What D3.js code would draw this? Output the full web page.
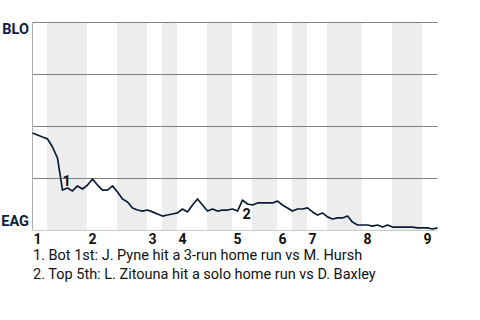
<!DOCTYPE html>
<html>
<head>
<meta charset="utf-8">
<script src="https://cdn.jsdelivr.net/npm/d3@7"></script>
<style>
  body { margin: 0; background: #fff; }
</style>
</head>
<body>
<div id="chart"></div>
<script>
// plate appearances in each half inning (top 1st, bot 1st, top 2nd ...)
var halfInningPAs = [3, 8, 6, 6, 3, 3, 6, 5, 4, 5, 3, 3, 4, 7, 6, 6, 3];
var innings = ['1', '2', '3', '4', '5', '6', '7', '8', '9'];
var teams = ['BLO', 'EAG'];

// BLO win probability (%) after each plate appearance
var winProb = [46.6, 45.7, 44.7, 43.8, 39.9, 34.6, 19.2, 20.2, 18.8, 21.2,
    19.7, 21.6, 24.5, 21.6, 19.2, 19.2, 21.2, 18.3, 14.9, 13.5,
    10.6, 9.6, 9.1, 9.6, 8.7, 7.7, 6.7, 7.2, 7.7, 8.2,
    10.1, 8.7, 12.0, 14.9, 12.0, 9.1, 10.1, 9.1, 9.6, 9.6,
    10.1, 9.1, 14.4, 12.5, 12.0, 13.0, 13.0, 13.0, 13.0, 13.9,
    12.0, 10.6, 9.1, 10.1, 10.1, 10.6, 8.7, 7.2, 8.2, 6.3,
    5.3, 5.8, 5.8, 6.7, 3.8, 2.4, 2.4, 2.4, 1.9, 2.4,
    1.4, 2.4, 1.4, 1.4, 1.4, 1.4, 1.4, 1.0, 1.0, 1.0,
    0.5, 1.0];

var keyPlays = [
    {pa: 6, label: '1', text: '1. Bot 1st: J. Pyne hit a 3-run home run vs M. Hursh'},
    {pa: 42, label: '2', text: '2. Top 5th: L. Zitouna hit a solo home run vs D. Baxley'}
];
var gridValues = [25, 50, 75, 100];

var width = 480, height = 320;
var margin = {left: 32.5, right: 42.5, top: 22, bottom: 90};

var svg = d3.select('#chart').append('svg')
    .attr('width', width)
    .attr('height', height)
    .style('font-family', 'Roboto, sans-serif');

var x = d3.scaleLinear()
    .domain([0, d3.sum(halfInningPAs)])
    .range([margin.left, width - margin.right]);

var y = d3.scaleLinear()
    .domain([0, 100])
    .range([height - margin.bottom, margin.top]);

// start of every half inning in plate appearances
var starts = [0];
halfInningPAs.forEach(function(n, i) {
    starts.push(starts[i] + n);
});

// shade bottom halves
var bands = [];
for (var i = 1; i < halfInningPAs.length; i += 2) {
    bands.push({from: starts[i], to: starts[i + 1]});
}
svg.append('g').selectAll('rect')
    .data(bands)
    .enter().append('rect')
    .attr('x', function(d) { return Math.floor(x(d.from)); })
    .attr('y', y(100))
    .attr('width', function(d) { return Math.floor(x(d.to)) - Math.floor(x(d.from)); })
    .attr('height', y(0) - y(100))
    .attr('fill', '#ededed');

svg.append('g').selectAll('line')
    .data(gridValues)
    .enter().append('line')
    .attr('x1', margin.left)
    .attr('x2', width - margin.right)
    .attr('y1', function(d) { return y(d) + 0.5; })
    .attr('y2', function(d) { return y(d) + 0.5; })
    .attr('stroke', '#808080')
    .attr('stroke-width', 1);

// left and bottom edges
svg.append('line')
    .attr('x1', margin.left).attr('x2', margin.left)
    .attr('y1', y(100)).attr('y2', y(0))
    .attr('stroke', '#b0b0b0');
svg.append('line')
    .attr('x1', margin.left).attr('x2', width - margin.right)
    .attr('y1', y(0) + 0.5).attr('y2', y(0) + 0.5)
    .attr('stroke', '#c8c8c8');

var line = d3.line()
    .x(function(d, i) { return x(i); })
    .y(function(d) { return y(d); });

svg.append('path')
    .datum(winProb)
    .attr('d', line)
    .attr('fill', 'none')
    .attr('stroke', '#0a1c38')
    .attr('stroke-width', 1.7)
    .attr('stroke-linejoin', 'round');

// team labels
svg.append('text')
    .attr('x', 29).attr('y', y(100) + 12)
    .attr('text-anchor', 'end')
    .attr('font-weight', 'bold')
    .attr('font-size', '14.5px')
    .attr('fill', '#0e2240')
    .text(teams[0]);
svg.append('text')
    .attr('x', 29).attr('y', y(0) - 4)
    .attr('text-anchor', 'end')
    .attr('font-weight', 'bold')
    .attr('font-size', '14.5px')
    .attr('fill', '#0e2240')
    .text(teams[1]);

// inning numbers at the top of each inning
svg.append('g').selectAll('text')
    .data(innings)
    .enter().append('text')
    .attr('x', function(d, i) { return x(starts[i * 2]) + 1; })
    .attr('y', y(0) + 14)
    .attr('font-weight', 'bold')
    .attr('font-size', '14px')
    .attr('fill', '#111')
    .text(function(d) { return d; });

// key play markers
svg.append('text')
    .attr('x', x(keyPlays[0].pa))
    .attr('y', y(winProb[keyPlays[0].pa]) - 4)
    .attr('font-weight', 'bold')
    .attr('font-size', '14.5px')
    .attr('fill', '#111')
    .text(keyPlays[0].label);
svg.append('text')
    .attr('x', x(keyPlays[1].pa))
    .attr('y', y(winProb[keyPlays[1].pa]) + 19)
    .attr('font-weight', 'bold')
    .attr('font-size', '14.5px')
    .attr('fill', '#111')
    .text(keyPlays[1].label);

svg.append('g').selectAll('text')
    .data(keyPlays)
    .enter().append('text')
    .attr('x', 33)
    .attr('y', function(d, i) { return 260 + i * 19; })
    .attr('font-size', '14.5px')
    .attr('fill', '#111')
    .text(function(d) { return d.text; });
</script>
</body>
</html>
